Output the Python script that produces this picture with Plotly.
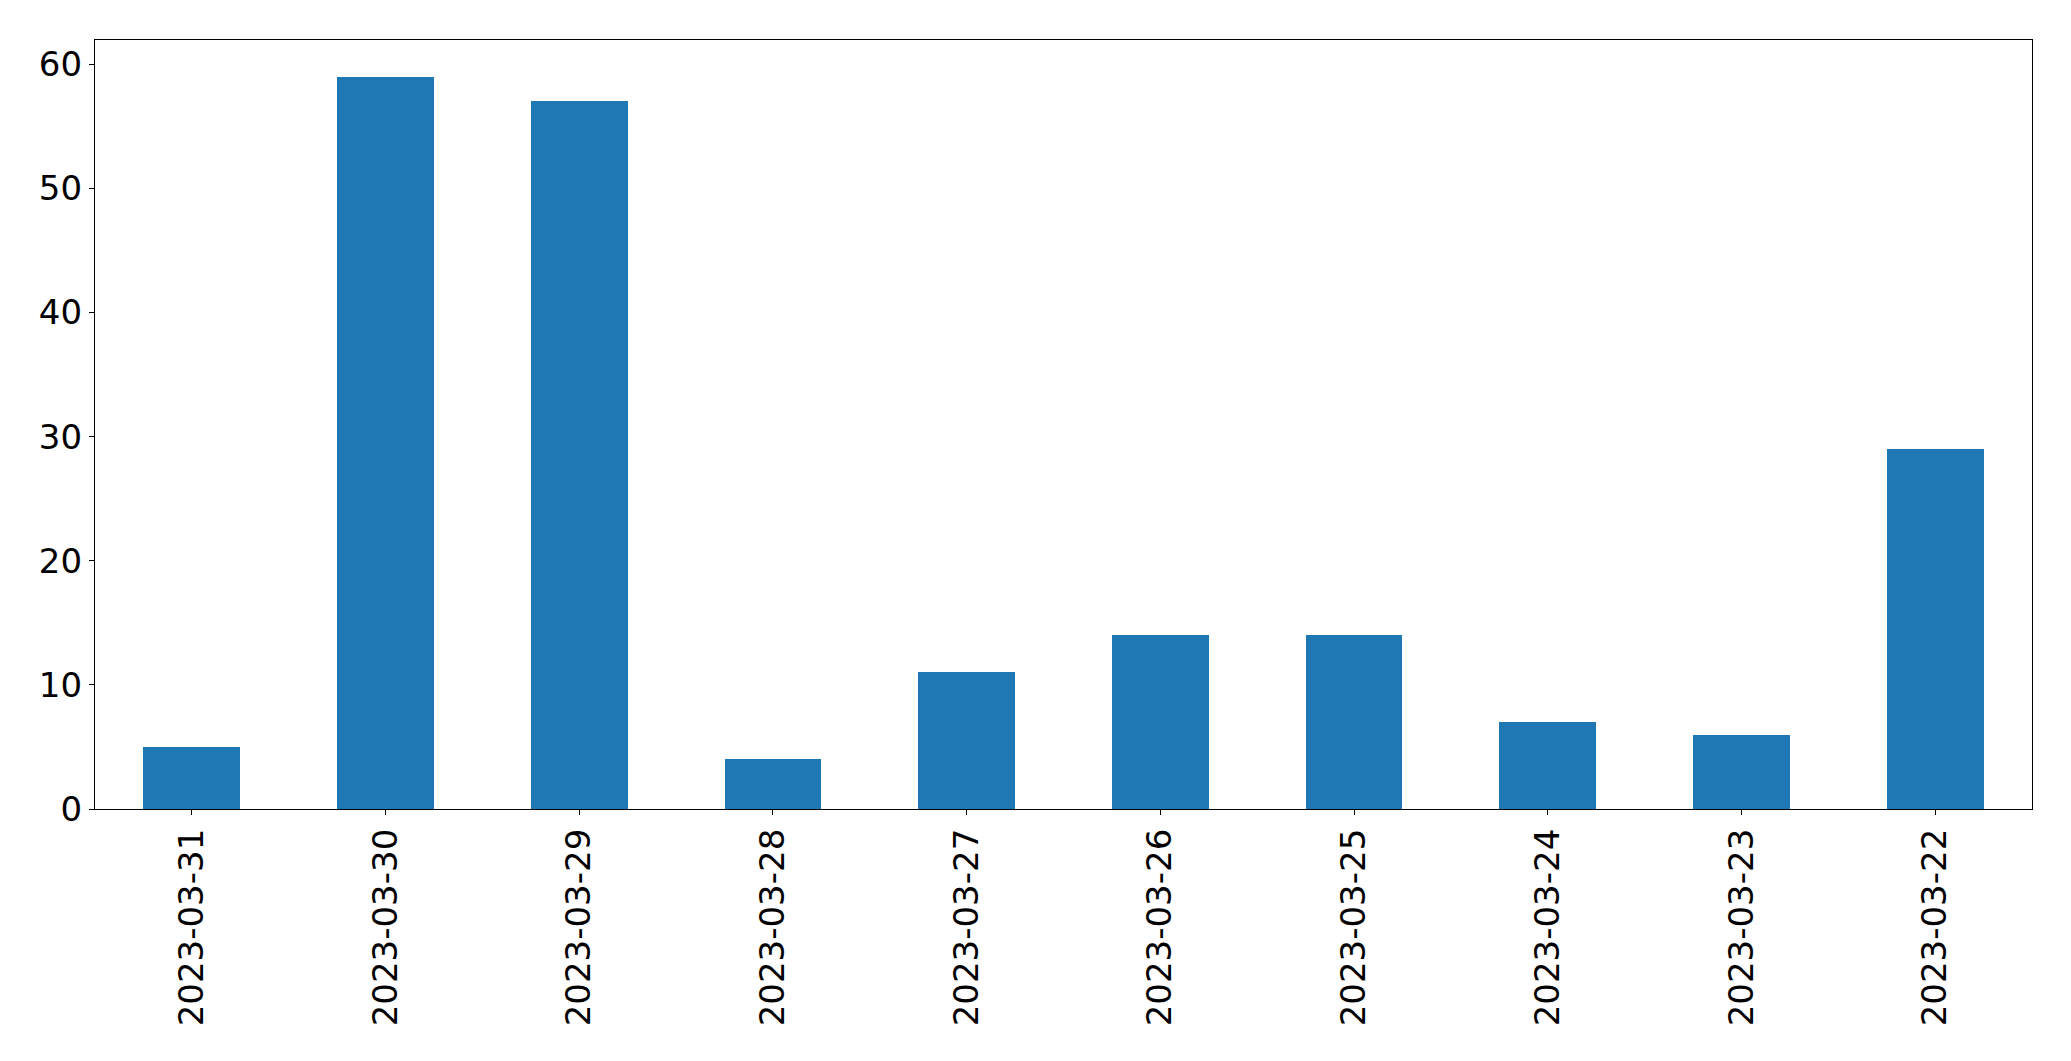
import plotly.graph_objects as go

categories = ["2023-03-31", "2023-03-30", "2023-03-29", "2023-03-28", "2023-03-27",
              "2023-03-26", "2023-03-25", "2023-03-24", "2023-03-23", "2023-03-22"]
values = [5, 59, 57, 4, 11, 14, 14, 7, 6, 29]
y_ticks = [0, 10, 20, 30, 40, 50, 60]

fig = go.Figure(go.Bar(x=categories, y=values, width=0.5, marker=dict(color="#1f77b4", line=dict(width=0))))

fig.update_layout(
    width=2071, height=1061,
    margin=dict(l=95, r=39, t=40, b=252, pad=0),
    paper_bgcolor="white", plot_bgcolor="white",
    font=dict(family="DejaVu Sans", size=34, color="black"),
    showlegend=False,
    bargap=0,
)
fig.update_xaxes(
    type="category", range=[-0.5, 9.5], tickangle=-90,
    showline=True, mirror=True, linecolor="black", linewidth=1.3,
    ticks="outside", ticklen=5, tickwidth=1.3, tickcolor="black",
    showgrid=False, zeroline=False, tickfont=dict(size=34),
)
fig.update_yaxes(
    range=[0, 61.95], tickvals=y_ticks,
    showline=True, mirror=True, linecolor="black", linewidth=1.3,
    ticks="outside", ticklen=5, tickwidth=1.3, tickcolor="black",
    showgrid=False, zeroline=False, tickfont=dict(size=34),
)

fig.write_html(
    "out.html",
    config={"displayModeBar": False},
    post_script="document.body.style.margin='0';document.body.style.overflow='hidden';",
)
